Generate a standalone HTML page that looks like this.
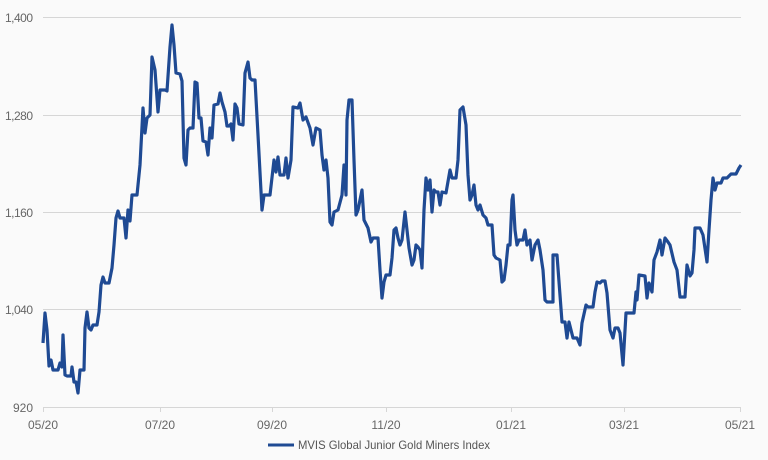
<!DOCTYPE html>
<html><head><meta charset="utf-8"><style>
html,body{margin:0;padding:0;background:#fafafa;}
svg{display:block;font-family:"Liberation Sans",sans-serif;}
</style></head><body>
<svg width="768" height="460" viewBox="0 0 768 460">
<rect width="768" height="460" fill="#fafafa"/>
<g stroke="#d6d6d6" stroke-width="1">
<line x1="43" y1="17.5" x2="741" y2="17.5"/>
<line x1="43" y1="115.5" x2="741" y2="115.5"/>
<line x1="43" y1="212.5" x2="741" y2="212.5"/>
<line x1="43" y1="309.5" x2="741" y2="309.5"/>
<line x1="43" y1="407.5" x2="741" y2="407.5"/>
<line x1="43.5" y1="407" x2="43.5" y2="412"/>
<line x1="160.5" y1="407" x2="160.5" y2="412"/>
<line x1="272.5" y1="407" x2="272.5" y2="412"/>
<line x1="386.5" y1="407" x2="386.5" y2="412"/>
<line x1="511.5" y1="407" x2="511.5" y2="412"/>
<line x1="624.5" y1="407" x2="624.5" y2="412"/>
<line x1="740.5" y1="407" x2="740.5" y2="412"/>
</g>
<g fill="#666" font-size="12" text-anchor="end">
<text x="33" y="22" textLength="28">1,400</text>
<text x="33" y="120" textLength="28">1,280</text>
<text x="33" y="217" textLength="28">1,160</text>
<text x="33" y="314" textLength="28">1,040</text>
<text x="33" y="412">920</text>
</g>
<g fill="#666" font-size="12" text-anchor="middle">
<text x="43" y="429">05/20</text>
<text x="160" y="429">07/20</text>
<text x="272" y="429">09/20</text>
<text x="386" y="429">11/20</text>
<text x="511" y="429">01/21</text>
<text x="624" y="429">03/21</text>
<text x="740" y="429">05/21</text>
</g>
<polyline fill="none" stroke="#1f4a93" stroke-width="3.2" stroke-linejoin="round" points="43,343 45,313 47,330 49,366 51,360 53,370 58,370 60,363 62,367 63,335 65,375 67,376 71,376 72,367 74,382 76,382 78,393 80,370 84,370 85,328 87,312 89,328 91,330 93,325 97,325 99,312 101,285 103,277 105,283 109,283 112,268 114,245 116,218 118,211 120,218 124,218 126,238 128,210 130,221 132,195 137,195 140,165 143,108 145,133 147,118 150,115 152,57 155,70 158,112 160,90 165,90 167,91 170,47 172,25 174,45 176,73 180,74 182,81 184,158 186,165 188,130 190,128 193,128 195,82 197,83 199,118 201,118 203,141 206,142 208,155 210,128 212,138 214,105 218,104 220,93 222,102 225,112 227,126 229,126 231,124 233,140 235,104 237,108 239,124 243,125 245,73 248,62 250,78 252,80 255,80 258,135 262,210 264,195 270,195 274,160 276,172 278,157 280,175 284,175 286,158 288,178 291,160 293,107 298,108 300,103 303,120 306,117 310,128 313,145 316,128 320,130 322,155 324,170 326,160 328,178 330,222 332,225 334,212 338,210 342,195 344,165 346,195 347,120 349,100 352,100 354,160 356,215 358,210 360,200 362,190 364,220 368,228 371,242 373,238 378,238 380,270 382,298 384,282 386,275 390,275 392,258 394,230 396,228 398,238 400,245 402,240 405,212 407,230 409,248 412,265 414,260 416,245 418,247 420,250 422,268 424,210 426,178 428,190 430,180 432,212 434,190 436,192 438,192 440,205 442,192 446,193 450,170 452,178 456,178 458,160 460,110 463,107 466,125 468,175 470,200 472,195 474,185 476,205 478,210 480,205 483,215 486,218 488,225 492,225 494,255 496,258 500,260 502,282 504,280 506,265 508,245 510,245 512,200 513,195 515,230 517,245 519,240 523,240 525,230 527,245 530,240 532,260 535,245 538,240 540,250 543,270 545,300 547,302 553,302 553,255 557,255 562,322 565,322 567,338 569,322 573,338 577,338 580,345 582,323 586,305 588,307 593,307 595,292 597,282 600,283 602,281 605,281 607,293 610,330 613,338 615,328 618,328 620,333 623,365 626,313 634,313 636,292 637,300 639,275 645,276 647,298 649,283 652,292 654,260 657,252 660,240 662,255 665,238 668,242 670,245 674,262 677,270 680,297 685,297 687,265 690,276 692,273 694,250 695,228 700,228 703,235 707,262 709,230 711,200 713,178 715,190 717,183 721,183 723,178 727,178 731,174 736,174 739,168 741,165"/>
<line x1="268" y1="445" x2="294" y2="445" stroke="#1f4a93" stroke-width="3"/>
<text x="298" y="449" fill="#555" font-size="12" textLength="192" lengthAdjust="spacingAndGlyphs">MVIS Global Junior Gold Miners Index</text>
</svg>
</body></html>
